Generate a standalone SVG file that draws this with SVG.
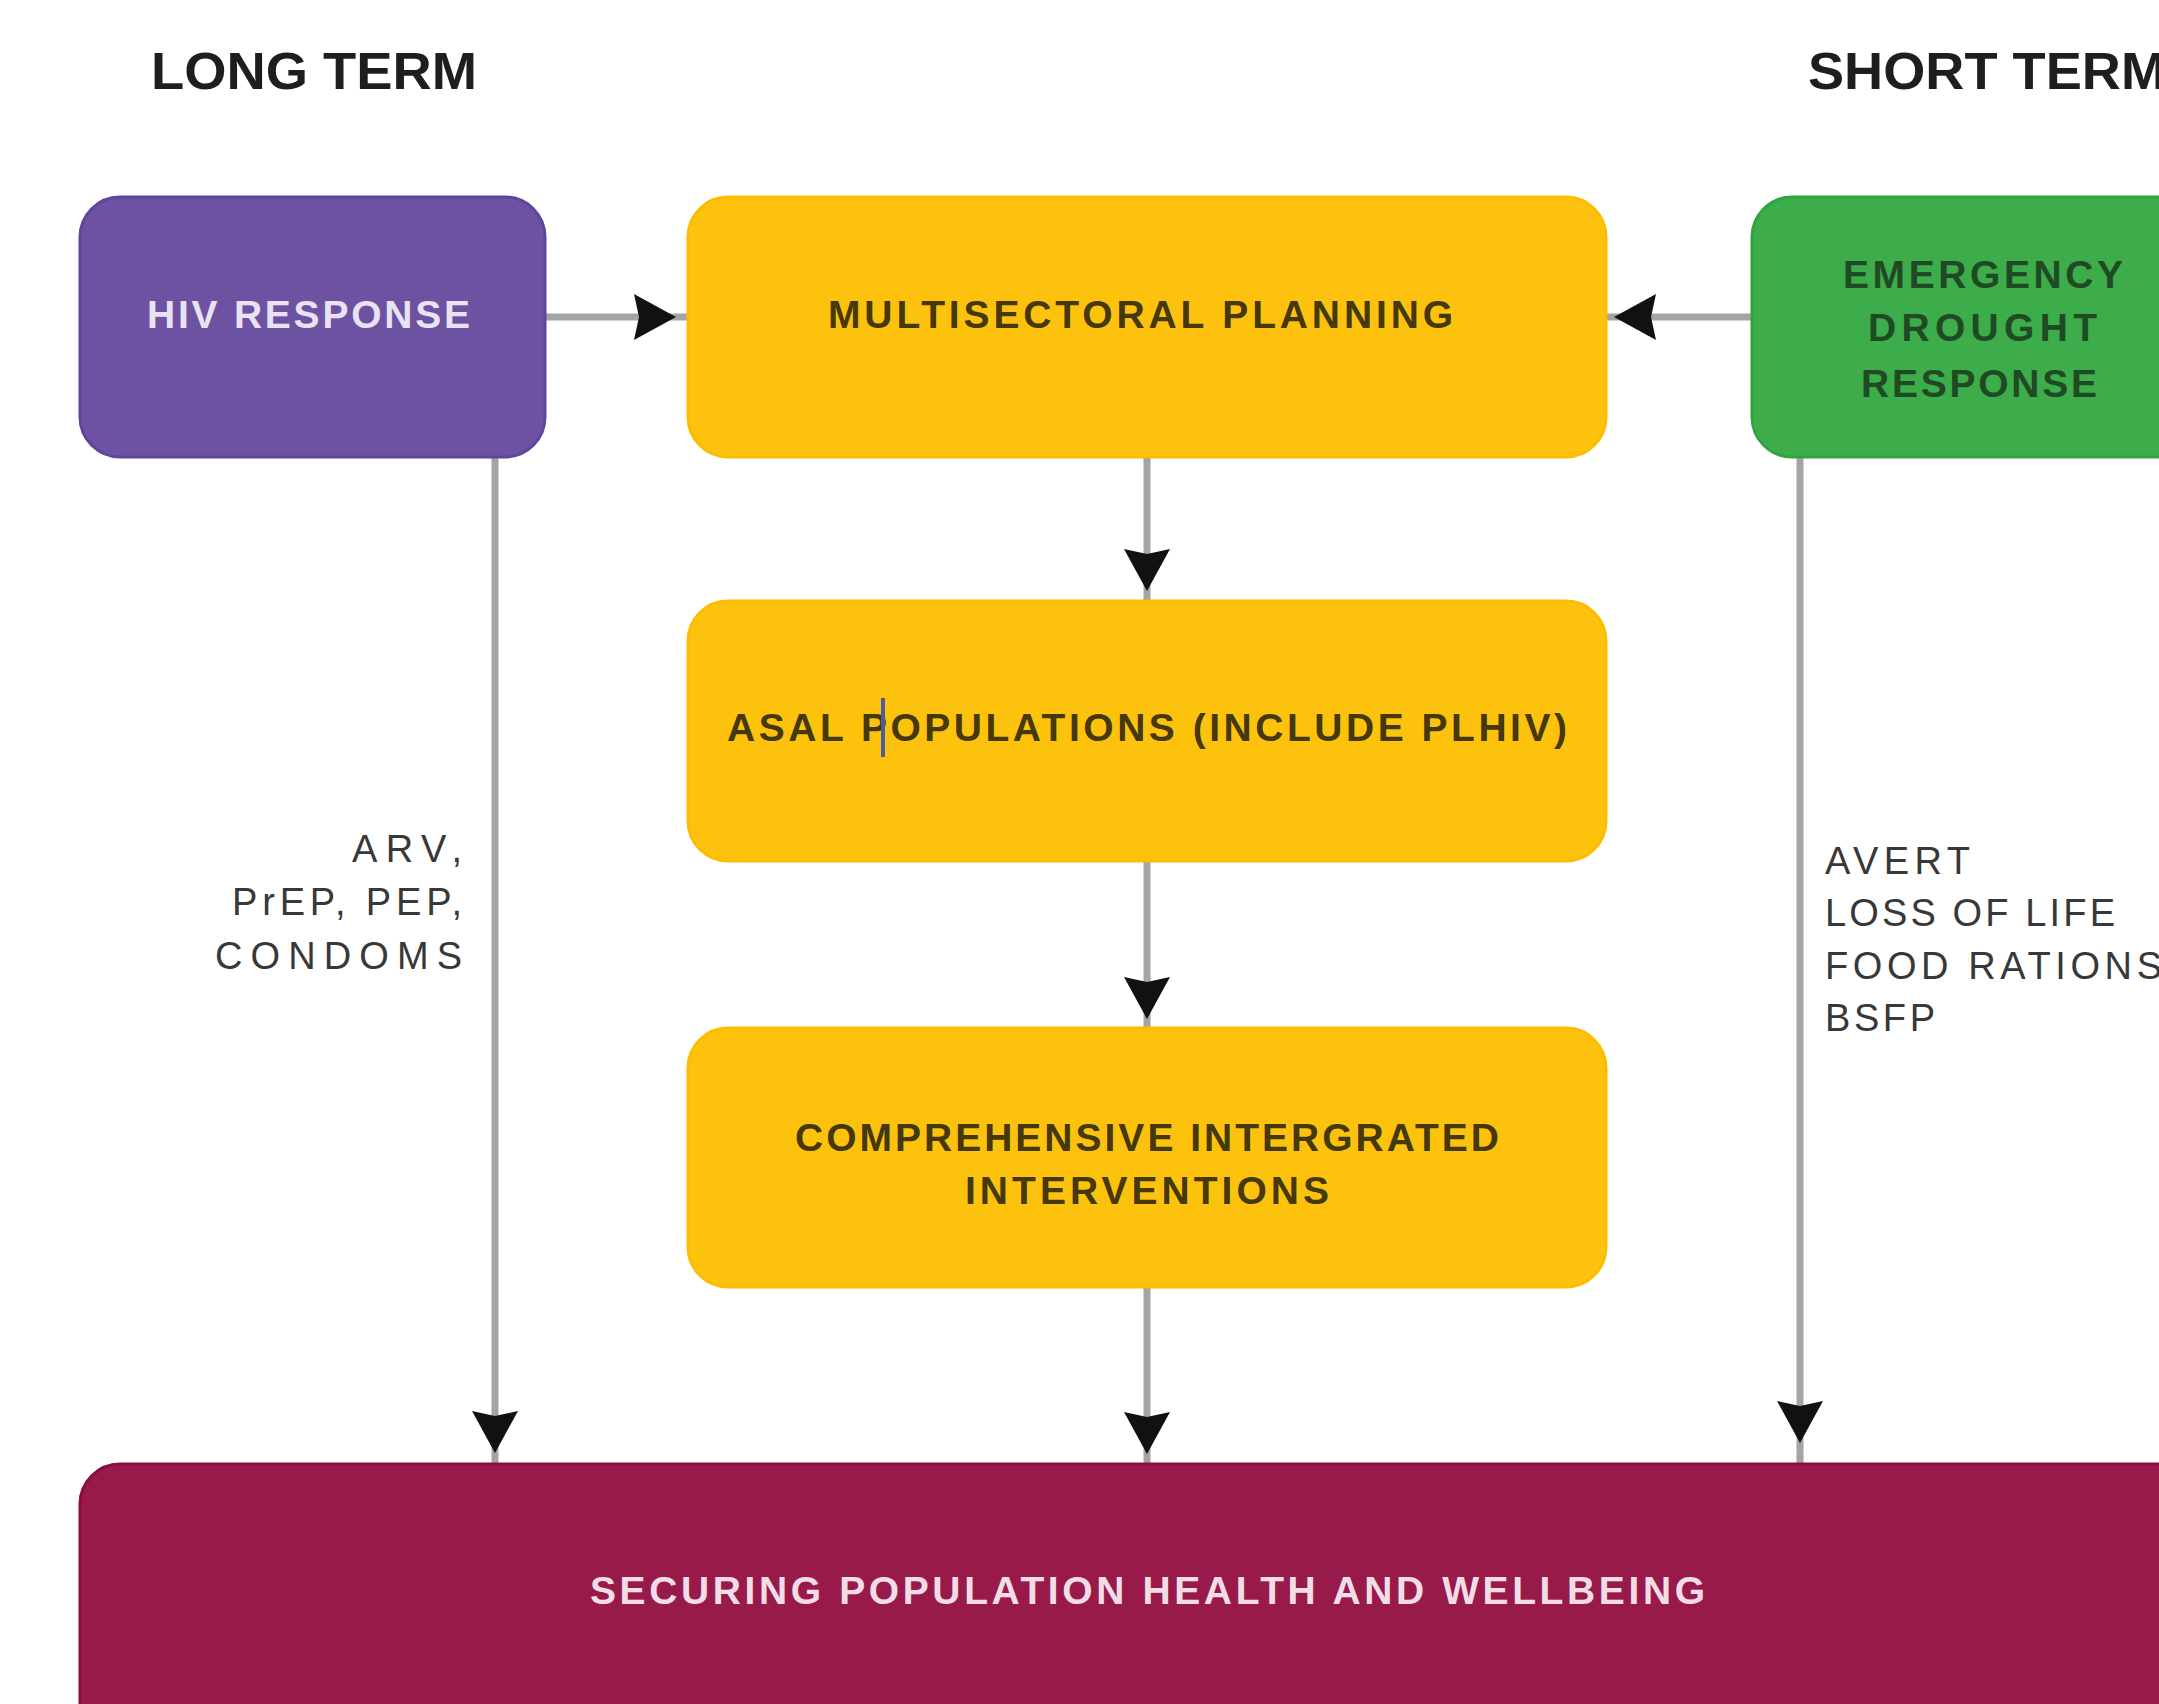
<svg xmlns="http://www.w3.org/2000/svg" xmlns:xlink="http://www.w3.org/1999/xlink" width="2159" height="1704" viewBox="0 0 2159 1704">
  <style>
    .heading { font-family: "Liberation Sans", Arial, sans-serif; font-weight: bold; font-size: 52px; fill: #1e1e1e; }
    .box-label { font-family: "Liberation Sans", Arial, sans-serif; font-weight: bold; font-size: 39px; }
    .note { font-family: "Liberation Sans", Arial, sans-serif; font-size: 38px; fill: #383838; }
    .purple { fill: #6c52a0; stroke: #61449b; stroke-width: 3; }
    .yellow { fill: #fdc20e; stroke: #fcbc00; stroke-width: 3; }
    .green { fill: #3dac4a; stroke: #32a43f; stroke-width: 3; }
    .maroon { fill: #971a4a; stroke: #8c0c3f; stroke-width: 3; }
    .on-purple { fill: #e8e2f3; }
    .on-yellow { fill: #45380a; }
    .on-green { fill: #1f4a24; }
    .on-maroon { fill: #f2dde7; }
    .wire { stroke: #a4a4a4; stroke-width: 7; fill: none; }
  </style>
  <defs>
    <!-- arrowhead pointing right, tip at the origin -->
    <path id="ah" d="M0,0 L-42,-23 L-37,0 L-42,23 Z" fill="#111111"/>
  </defs>

  <rect width="2159" height="1704" fill="#ffffff"/>

  <!-- column headings -->
  <g id="headings">
    <text class="heading" x="151" y="89" textLength="326" lengthAdjust="spacingAndGlyphs">LONG TERM</text>
    <text class="heading" x="1808" y="89" textLength="358" lengthAdjust="spacingAndGlyphs">SHORT TERM</text>
  </g>

  <!-- connectors -->
  <g id="connectors">
    <line class="wire" x1="545" y1="317" x2="688" y2="317"/>
    <use xlink:href="#ah" transform="translate(676,317)"/>

    <line class="wire" x1="1752" y1="317" x2="1607" y2="317"/>
    <use xlink:href="#ah" transform="translate(1614,317) rotate(180)"/>

    <line class="wire" x1="1147" y1="458" x2="1147" y2="600"/>
    <use xlink:href="#ah" transform="translate(1147,591) rotate(90)"/>

    <line class="wire" x1="1147" y1="862" x2="1147" y2="1028"/>
    <use xlink:href="#ah" transform="translate(1147,1019) rotate(90)"/>

    <line class="wire" x1="1147" y1="1288" x2="1147" y2="1463"/>
    <use xlink:href="#ah" transform="translate(1147,1454) rotate(90)"/>

    <line class="wire" x1="495" y1="458" x2="495" y2="1463"/>
    <use xlink:href="#ah" transform="translate(495,1453) rotate(90)"/>

    <line class="wire" x1="1800" y1="458" x2="1800" y2="1463"/>
    <use xlink:href="#ah" transform="translate(1800,1443) rotate(90)"/>

    <!-- side labels -->
    <text class="note" x="352" y="862" textLength="110" lengthAdjust="spacing">ARV,</text>
    <text class="note" x="232" y="915" textLength="230" lengthAdjust="spacing">PrEP, PEP,</text>
    <text class="note" x="215" y="969" textLength="247" lengthAdjust="spacing">CONDOMS</text>

    <text class="note" x="1825" y="874" textLength="145" lengthAdjust="spacing">AVERT</text>
    <text class="note" x="1825" y="926" textLength="290" lengthAdjust="spacing">LOSS OF LIFE</text>
    <text class="note" x="1825" y="979" textLength="337" lengthAdjust="spacing">FOOD RATIONS</text>
    <text class="note" x="1825" y="1031" textLength="110" lengthAdjust="spacing">BSFP</text>
  </g>

  <!-- nodes -->
  <g id="hiv-response">
    <rect class="purple" x="80" y="197" width="465" height="260" rx="40"/>
    <text class="box-label on-purple" x="147" y="328" textLength="323" lengthAdjust="spacing">HIV RESPONSE</text>
  </g>

  <g id="multisectoral-planning">
    <rect class="yellow" x="688" y="197" width="918" height="260" rx="40"/>
    <text class="box-label on-yellow" x="828" y="328" textLength="625" lengthAdjust="spacing">MULTISECTORAL PLANNING</text>
  </g>

  <g id="emergency-drought-response">
    <rect class="green" x="1752" y="197" width="520" height="260" rx="40"/>
    <text class="box-label on-green" x="1843" y="288" textLength="280" lengthAdjust="spacing">EMERGENCY</text>
    <text class="box-label on-green" x="1868" y="341" textLength="229" lengthAdjust="spacing">DROUGHT</text>
    <text class="box-label on-green" x="1861" y="397" textLength="236" lengthAdjust="spacing">RESPONSE</text>
  </g>

  <g id="asal-populations">
    <rect class="yellow" x="688" y="601" width="918" height="260" rx="40"/>
    <text class="box-label on-yellow" x="727" y="741" textLength="840" lengthAdjust="spacing">ASAL POPULATIONS (INCLUDE PLHIV)</text>
    <!-- text cursor -->
    <line x1="883" y1="698" x2="883" y2="757" stroke="#4b5ca2" stroke-width="4"/>
  </g>

  <g id="comprehensive-interventions">
    <rect class="yellow" x="688" y="1028" width="918" height="259" rx="40"/>
    <text class="box-label on-yellow" x="795" y="1151" textLength="704" lengthAdjust="spacing">COMPREHENSIVE INTERGRATED</text>
    <text class="box-label on-yellow" x="965" y="1204" textLength="364" lengthAdjust="spacing">INTERVENTIONS</text>
  </g>

  <g id="population-health">
    <rect class="maroon" x="80" y="1464" width="2200" height="320" rx="40"/>
    <text class="box-label on-maroon" x="590" y="1604" textLength="1115" lengthAdjust="spacing">SECURING POPULATION HEALTH AND WELLBEING</text>
  </g>
</svg>
